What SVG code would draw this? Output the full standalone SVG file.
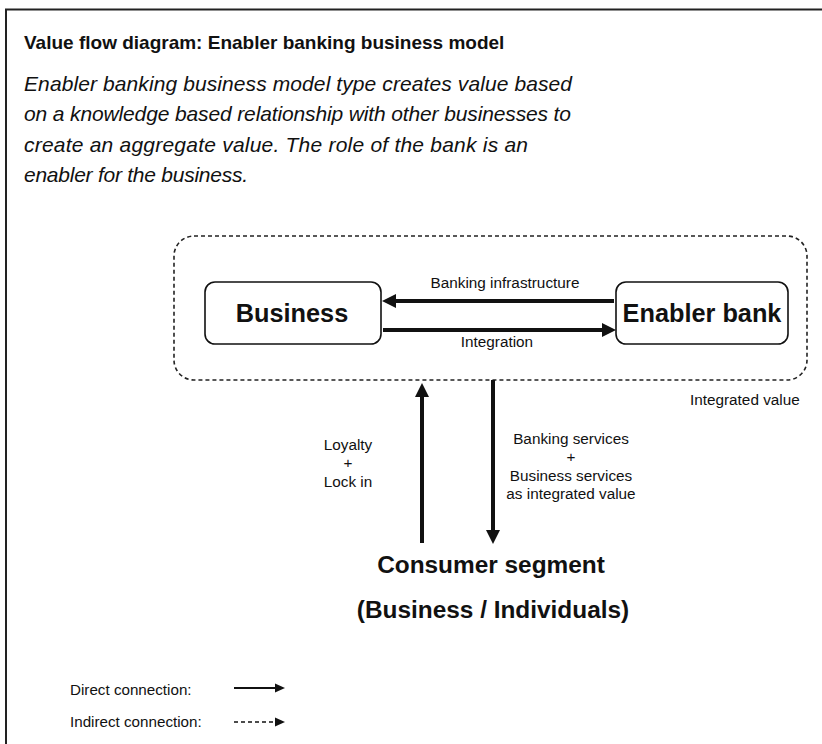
<svg xmlns="http://www.w3.org/2000/svg" width="822" height="744" viewBox="0 0 822 744">
<defs>
<style>
text{font-family:"Liberation Sans",Arial,sans-serif;fill:#111}
.title{font-size:19px;font-weight:bold}
.desc{font-size:21px;font-style:italic}
.lbl{font-size:15.3px}
.node{font-size:25.3px;font-weight:bold}
.cons{font-size:24.4px;font-weight:bold}
.leg{font-size:15.2px}
.box{fill:#fff;stroke:#111;stroke-width:1.6}
.thick{stroke:#111;stroke-width:4;fill:none}
.thin{stroke:#111;stroke-width:2;fill:none}
</style>
<marker id="ah" viewBox="0 0 14 14" refX="1" refY="7" markerWidth="14" markerHeight="14" markerUnits="userSpaceOnUse" orient="auto">
<path d="M0,0 L14,7 L0,14 z" fill="#111"/>
</marker>
<marker id="ahs" viewBox="0 0 10 10" refX="1" refY="5" markerWidth="10" markerHeight="10" markerUnits="userSpaceOnUse" orient="auto">
<path d="M0,0.5 L10,5 L0,9.5 z" fill="#111"/>
</marker>
</defs>
<rect width="822" height="744" fill="#fff"/>
<path d="M6,744 V9.5 H822" fill="none" stroke="#222" stroke-width="2"/>

<g id="header">
<text class="title" x="24" y="49">Value flow diagram: Enabler banking business model</text>
<text class="desc" x="24" y="91" textLength="548">Enabler banking business model type creates value based</text>
<text class="desc" x="24" y="121" textLength="547">on a knowledge based relationship with other businesses to</text>
<text class="desc" x="24" y="152" textLength="504">create an aggregate value. The role of the bank is an</text>
<text class="desc" x="24" y="182" textLength="224">enabler for the business.</text>
</g>

<g id="integrated-value">
<rect x="174" y="236" width="633" height="144" rx="20" fill="none" stroke="#222" stroke-width="1.6" stroke-dasharray="4,3"/>
<text class="lbl" x="690" y="405">Integrated value</text>
</g>

<g id="business">
<rect class="box" x="205" y="282" width="176" height="62" rx="10"/>
<text class="node" x="292" y="322" text-anchor="middle">Business</text>
</g>

<g id="enabler-bank">
<rect class="box" x="616" y="282" width="172" height="62" rx="10"/>
<text class="node" x="702" y="322" text-anchor="middle">Enabler bank</text>
</g>

<g id="consumer-segment">
<text class="cons" x="491" y="573" text-anchor="middle">Consumer segment</text>
<text class="cons" x="493" y="618" text-anchor="middle">(Business / Individuals)</text>
</g>

<g id="connectors">
<path class="thick" d="M614,301 H395" marker-end="url(#ah)"/>
<text class="lbl" x="505" y="288" text-anchor="middle">Banking infrastructure</text>
<path class="thick" d="M383,330 H603" marker-end="url(#ah)"/>
<text class="lbl" x="497" y="347" text-anchor="middle">Integration</text>
<path class="thick" d="M422,543 V396" marker-end="url(#ah)"/>
<text class="lbl" x="348" y="450" text-anchor="middle">Loyalty</text>
<text class="lbl" x="348" y="468" text-anchor="middle">+</text>
<text class="lbl" x="348" y="487" text-anchor="middle">Lock in</text>
<path class="thick" d="M493,380 V531" marker-end="url(#ah)"/>
<text class="lbl" x="571" y="444" text-anchor="middle">Banking services</text>
<text class="lbl" x="571" y="462" text-anchor="middle">+</text>
<text class="lbl" x="571" y="481" text-anchor="middle">Business services</text>
<text class="lbl" x="571" y="499" text-anchor="middle">as integrated value</text>
</g>

<g id="legend">
<text class="leg" x="70" y="695">Direct connection:</text>
<text class="leg" x="70" y="727">Indirect connection:</text>
<path class="thin" d="M234,688 H276" marker-end="url(#ahs)"/>
<path d="M234,722 H276" fill="none" stroke="#111" stroke-width="1.6" stroke-dasharray="4,3" marker-end="url(#ahs)"/>
</g>
</svg>
